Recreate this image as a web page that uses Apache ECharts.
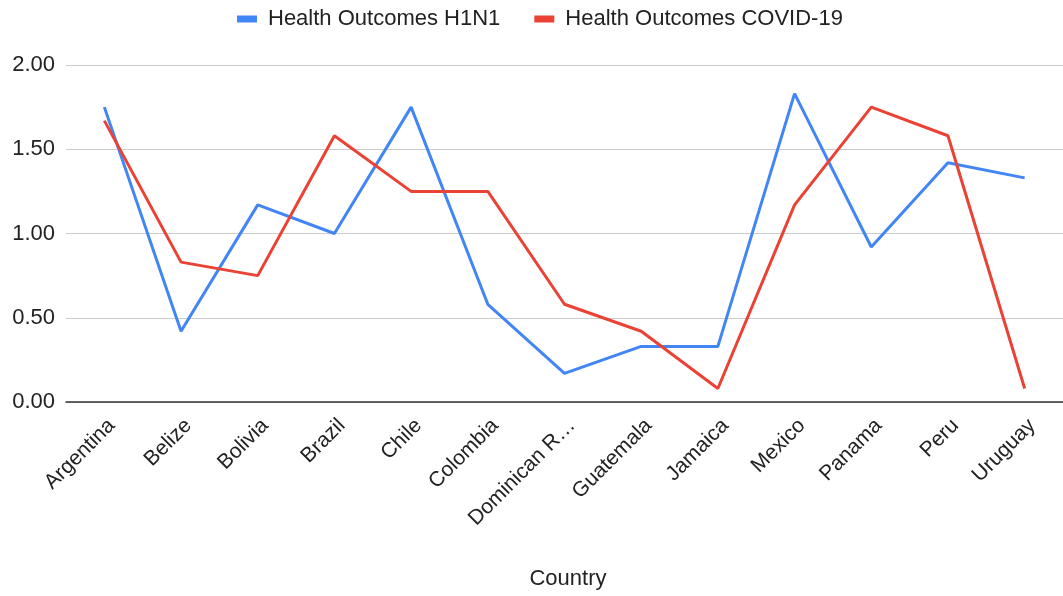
<!DOCTYPE html>
<html>
<head>
<meta charset="utf-8">
<script src="https://cdn.jsdelivr.net/npm/echarts@6/dist/echarts.min.js"></script>
<style>
  html, body { margin: 0; padding: 0; background: #ffffff; }
  #chart { width: 1063px; height: 596px; }
</style>
</head>
<body>
<div id="chart"></div>
<script>
// Countries on the x axis
const countries = ['Argentina', 'Belize', 'Bolivia', 'Brazil', 'Chile', 'Colombia',
  'Dominican Republic', 'Guatemala', 'Jamaica', 'Mexico', 'Panama', 'Peru', 'Uruguay'];

// Health outcome scores per country
const h1n1 = [1.75, 0.42, 1.17, 1.00, 1.75, 0.58, 0.17, 0.33, 0.33, 1.83, 0.92, 1.42, 1.33];
const covid19 = [1.67, 0.83, 0.75, 1.58, 1.25, 1.25, 0.58, 0.42, 0.08, 1.17, 1.75, 1.58, 0.08];

const seriesNames = ['Health Outcomes H1N1', 'Health Outcomes COVID-19'];
const yTicks = { min: 0, max: 2, interval: 0.5 };

const font = 'Liberation Sans, Arial, Helvetica, sans-serif';
const chart = echarts.init(document.getElementById('chart'), null, { renderer: 'canvas' });

chart.setOption({
  animation: false,
  backgroundColor: '#ffffff',
  color: ['#4285F4', '#EA4335'],
  textStyle: { fontFamily: font },
  legend: {
    top: 3,
    left: 232,
    itemWidth: 20,
    itemHeight: 7,
    itemGap: 34,
    icon: 'rect',
    textStyle: { fontSize: 22, color: '#222', fontFamily: font, padding: [0, 0, 0, 6] },
    data: seriesNames
  },
  grid: { left: 66, right: 0, top: 65, bottom: 194, containLabel: false },
  xAxis: {
    type: 'category',
    data: countries,
    boundaryGap: true,
    name: 'Country',
    nameLocation: 'middle',
    nameGap: 166,
    nameTextStyle: { fontSize: 22, color: '#222', fontFamily: font, padding: [0, 0, 0, 7] },
    axisLine: { lineStyle: { color: '#333', width: 1.5 } },
    axisTick: { show: false },
    axisLabel: {
      rotate: 45,
      interval: 0,
      margin: 13,
      verticalAlign: 'top',
      fontSize: 21,
      color: '#222',
      fontFamily: font,
      width: 145,
      overflow: 'truncate',
      ellipsis: '…'
    }
  },
  yAxis: {
    type: 'value',
    min: yTicks.min,
    max: yTicks.max,
    interval: yTicks.interval,
    axisLine: { show: false },
    axisTick: { show: false },
    splitLine: { lineStyle: { color: '#cccccc', width: 1.2 } },
    axisLabel: {
      margin: 11,
      fontSize: 22,
      color: '#222',
      fontFamily: font,
      formatter: v => v.toFixed(2)
    }
  },
  series: [
    {
      name: seriesNames[0],
      type: 'line',
      data: h1n1,
      showSymbol: false,
      lineStyle: { width: 3 },
      z: 2
    },
    {
      name: seriesNames[1],
      type: 'line',
      data: covid19,
      showSymbol: false,
      lineStyle: { width: 3 },
      z: 3
    }
  ]
});
</script>
</body>
</html>
